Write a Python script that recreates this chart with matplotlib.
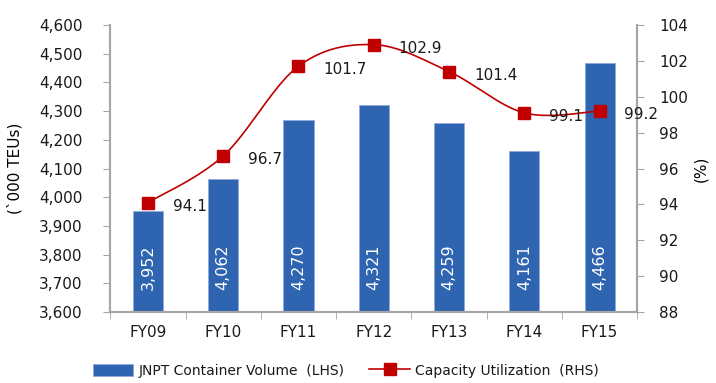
import numpy as np
import matplotlib.pyplot as plt
from matplotlib.ticker import FuncFormatter, MultipleLocator

years = ['FY09', 'FY10', 'FY11', 'FY12', 'FY13', 'FY14', 'FY15']
volume = [3952, 4062, 4270, 4321, 4259, 4161, 4466]
utilization = [94.1, 96.7, 101.7, 102.9, 101.4, 99.1, 99.2]

BAR_COLOR = '#2E64B0'
LINE_COLOR = '#C00000'
GRID_GRAY = '#A6A6A6'
TEXT = '#1a1a1a'

plt.rcParams['font.family'] = ['DejaVu Sans']
plt.rcParams['font.size'] = 11
plt.rcParams['text.color'] = TEXT
plt.rcParams['xtick.color'] = TEXT
plt.rcParams['ytick.color'] = TEXT


def smooth(xs, ys, n=40):
    # cubic bezier through the points, tangents like a Catmull-Rom spline
    xs = np.asarray(xs, float)
    ys = np.asarray(ys, float)
    px, py = [], []
    for i in range(len(xs) - 1):
        x0, y0 = xs[max(i - 1, 0)], ys[max(i - 1, 0)]
        x1, y1 = xs[i], ys[i]
        x2, y2 = xs[i + 1], ys[i + 1]
        x3, y3 = xs[min(i + 2, len(xs) - 1)], ys[min(i + 2, len(xs) - 1)]
        c1x, c1y = x1 + (x2 - x0) / 6, y1 + (y2 - y0) / 6
        c2x, c2y = x2 - (x3 - x1) / 6, y2 - (y3 - y1) / 6
        t = np.linspace(0, 1, n)
        a, b, c, d = (1 - t) ** 3, 3 * (1 - t) ** 2 * t, 3 * (1 - t) * t ** 2, t ** 3
        px.append(a * x1 + b * c1x + c * c2x + d * x2)
        py.append(a * y1 + b * c1y + c * c2y + d * y2)
    return np.concatenate(px), np.concatenate(py)


fig = plt.figure(figsize=(7.16, 3.83), dpi=100)
ax = fig.add_axes([0.154, 0.185, 0.736, 0.75])
ax2 = ax.twinx()

x = np.arange(len(years))
bars = ax.bar(x, volume, width=0.4, color=BAR_COLOR, edgecolor='#8FAADC', linewidth=0.6,
              label='JNPT Container Volume  (LHS)', zorder=2)
for xi, v in zip(x, volume):
    ax.text(xi, 3677, f'{v:,}', rotation=90, ha='center', va='bottom', color='white', fontsize=11.5)

ax.set_ylim(3600, 4600)
ax.set_xlim(-0.5, len(years) - 0.5)
ax.yaxis.set_major_locator(MultipleLocator(100))
ax.yaxis.set_major_formatter(FuncFormatter(lambda v, p: f'{int(v):,}'))
ax.set_ylabel("(`000 TEUs)", fontsize=11)
ax.yaxis.set_label_coords(-0.167, 0.5)
ax.set_xticks(x)
ax.set_xticklabels(years)
ax.set_xticks(np.arange(-0.5, len(years), 1), minor=True)
ax.tick_params(axis='x', which='major', length=0, pad=9)
ax.tick_params(axis='x', which='minor', length=5, color=GRID_GRAY)
ax.tick_params(axis='y', length=5, color=GRID_GRAY, pad=15)

sx, sy = smooth(x, utilization)
ax2.plot(sx, sy, color=LINE_COLOR, linewidth=1.2, zorder=3)
ax2.plot(x, utilization, linestyle='none', marker='s', markersize=9, color=LINE_COLOR, zorder=4)
for xi, u in zip(x, utilization):
    ax2.text(xi + 0.33, u - 0.2, f'{u:.1f}', ha='left', va='center', fontsize=11)
ax2.set_ylim(88, 104)
ax2.yaxis.set_major_locator(MultipleLocator(2))
ax2.set_ylabel('(%)', fontsize=11)
ax2.yaxis.set_label_coords(1.106, 0.5)
ax2.tick_params(axis='y', length=5, color=GRID_GRAY, pad=11)

for a in (ax, ax2):
    a.spines['top'].set_visible(False)
    for side in ('left', 'right', 'bottom'):
        a.spines[side].set_color(GRID_GRAY)
        a.spines[side].set_linewidth(1.5)

line_handle = plt.Line2D([], [], color=LINE_COLOR, marker='s', markersize=8, linewidth=1.2,
                         label='Capacity Utilization  (RHS)')
fig.legend(handles=[bars, line_handle], loc='center', bbox_to_anchor=(0.483, 0.032), ncol=2,
           frameon=False, fontsize=10, handlelength=2.9, handleheight=0.9,
           columnspacing=1.8, handletextpad=0.4)

fig.savefig('out.png', dpi=100)
